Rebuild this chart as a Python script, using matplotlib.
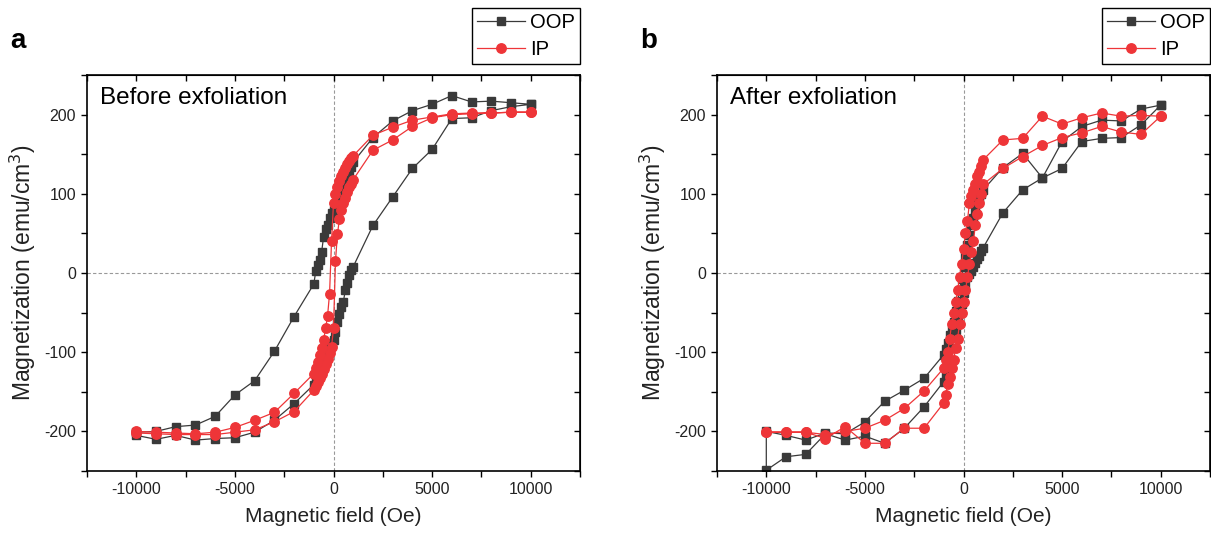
import numpy as np
import matplotlib
matplotlib.use("Agg")
import matplotlib.pyplot as plt

plt.rcParams['font.family'] = ['Liberation Sans', 'DejaVu Sans']
plt.rcParams['axes.unicode_minus'] = False

# field sweeps (Oe)
H_down = [10000, 9000, 8000, 7000, 6000, 5000, 4000, 3000, 2000, 1000,
          900, 800, 700, 600, 500, 400, 300, 200, 100, 0,
          -100, -200, -300, -400, -500, -600, -700, -800, -900, -1000,
          -2000, -3000, -4000, -5000, -6000, -7000, -8000, -9000, -10000]
H_up = [-10000, -9000, -8000, -7000, -6000, -5000, -4000, -3000, -2000, -1000,
        -900, -800, -700, -600, -500, -400, -300, -200, -100, 0,
        100, 200, 300, 400, 500, 600, 700, 800, 900, 1000,
        2000, 3000, 4000, 5000, 6000, 7000, 8000, 9000, 10000]

# (a) before exfoliation, emu/cm3
oop_a_down = [213, 215, 217, 216, 224, 213, 205, 192, 171, 140,
              134, 128, 122, 116, 108, 100, 93, 88, 83, 79,
              76, 70, 61, 55, 46, 27, 17, 10, 2, -14,
              -55, -99, -136, -154, -181, -192, -194, -200, -201]
oop_a_up = [-205, -210, -205, -211, -209, -208, -201, -186, -165, -141,
            -137, -132, -126, -120, -113, -106, -99, -93, -88, -84,
            -75, -62, -52, -43, -36, -22, -12, -2, 4, 8,
            60, 96, 132, 156, 195, 196, 205, 210, 213]
ip_a_down = [203, 203, 202, 202, 201, 197, 193, 184, 174, 148,
             145, 141, 137, 133, 128, 122, 116, 109, 100, 88,
             40, -26, -54, -70, -84, -95, -104, -112, -120, -127,
             -152, -176, -186, -195, -201, -203, -202, -201, -200]
ip_a_up = [-202, -203, -204, -204, -204, -201, -198, -188, -175, -148,
           -143, -138, -133, -127, -121, -115, -108, -101, -93, -70,
           15, 49, 68, 80, 88, 95, 102, 108, 113, 118,
           155, 168, 185, 196, 200, 201, 202, 203, 203]

# (b) after exfoliation
oop_b_down = [212, 207, 192, 193, 185, 166, 120, 151, 133, 105,
              100, 95, 88, 80, 70, 60, 48, 35, 22, 8,
              -8, -22, -35, -48, -62, -72, -78, -88, -96, -103,
              -133, -148, -162, -188, -203, -202, -211, -205, -200]
oop_b_up = [-249, -232, -229, -203, -211, -206, -215, -196, -169, -137,
            -130, -122, -110, -95, -80, -72, -60, -45, -39, -25,
            -15, -5, -1, 3, 8, 13, 18, 22, 28, 32,
            76, 105, 120, 132, 166, 170, 171, 187, 212]
ip_b_down = [198, 199, 198, 202, 196, 188, 198, 170, 168, 143,
             135, 128, 122, 112, 105, 97, 88, 66, 51, 30,
             11, -5, -22, -37, -51, -64, -83, -100, -110, -120,
             -149, -171, -186, -196, -200, -204, -201, -201, -201]
ip_b_up = [-201, -201, -201, -209, -194, -215, -215, -196, -196, -164,
           -154, -140, -131, -120, -110, -95, -83, -64, -51, -37,
           -22, -5, 11, 26, 40, 60, 75, 88, 100, 112,
           132, 147, 161, 171, 177, 185, 178, 175, 198]

panels = [
    ('a', 'Before exfoliation', oop_a_down + oop_a_up, ip_a_down + ip_a_up),
    ('b', 'After exfoliation', oop_b_down + oop_b_up, ip_b_down + ip_b_up),
]
H_all = H_down + H_up

BLACK = '#3a3a3a'
RED = '#ee3538'

fig = plt.figure(figsize=(12.11, 5.36), dpi=100)
W, Hpx = 1211, 536
lefts = [87, 717]
ax_w = 493

for (letter, title, oop, ip), lpx in zip(panels, lefts):
    ax = fig.add_axes([lpx / W, 1 - 471 / Hpx, ax_w / W, 396 / Hpx])
    ax.axhline(0, color='#999999', lw=0.8, ls=(0, (3, 2)), zorder=0)
    ax.axvline(0, color='#999999', lw=0.8, ls=(0, (3, 2)), zorder=0)
    ax.plot(H_all, oop, color=BLACK, lw=0.9, marker='s', ms=6.2,
            mec=BLACK, mfc=BLACK, label='OOP', zorder=2)
    ax.plot(H_all, ip, color=RED, lw=0.9, marker='o', ms=6.8,
            mec=RED, mfc=RED, label='IP', zorder=3)

    ax.set_xlim(-12500, 12500)
    ax.set_ylim(-250, 250)
    ax.set_xticks([-10000, -5000, 0, 5000, 10000])
    ax.set_xticks(np.arange(-12500, 12501, 2500), minor=True)
    ax.set_yticks([-200, -100, 0, 100, 200])
    ax.set_yticks(np.arange(-250, 251, 50), minor=True)
    ax.tick_params(which='both', direction='out', length=4.5, width=1,
                   labelsize=11.5, colors='black', labelcolor='#222222')
    for s in ax.spines.values():
        s.set_linewidth(1.2)

    # inward mirror ticks on top and right
    top = ax.secondary_xaxis('top')
    top.set_xticks(np.arange(-12500, 12501, 2500))
    top.tick_params(direction='in', length=4.5, width=1, labeltop=False)
    right = ax.secondary_yaxis('right')
    right.set_yticks(np.arange(-250, 251, 50))
    right.tick_params(direction='in', length=4.5, width=1, labelright=False)

    ax.set_xlabel('Magnetic field (Oe)', fontsize=15, color='#222222')
    ax.set_ylabel('Magnetization (emu/cm$^3$)', fontsize=16.5, color='#222222')
    ax.xaxis.set_label_coords(0.5, -0.092)
    ax.yaxis.set_label_coords(-0.1, 0.5)

    ax.text(0.026, 0.927, title, transform=ax.transAxes, fontsize=17.5,
            va='baseline', ha='left')
    fig.text((lpx - 77) / W, 1 - 41 / Hpx, letter, fontsize=20,
             fontweight='bold', va='center', ha='left')

    fig.legend(handles=ax.get_lines()[2:], labels=['OOP', 'IP'],
               loc='upper right', bbox_to_anchor=((lpx + ax_w) / W, 1 - 8 / Hpx),
               fontsize=14.5, frameon=True, fancybox=False, framealpha=1,
               edgecolor='black', borderpad=0.25, handlelength=2.4,
               handletextpad=0.25, labelspacing=0.38, borderaxespad=0)

fig.savefig('out.png', dpi=100)
